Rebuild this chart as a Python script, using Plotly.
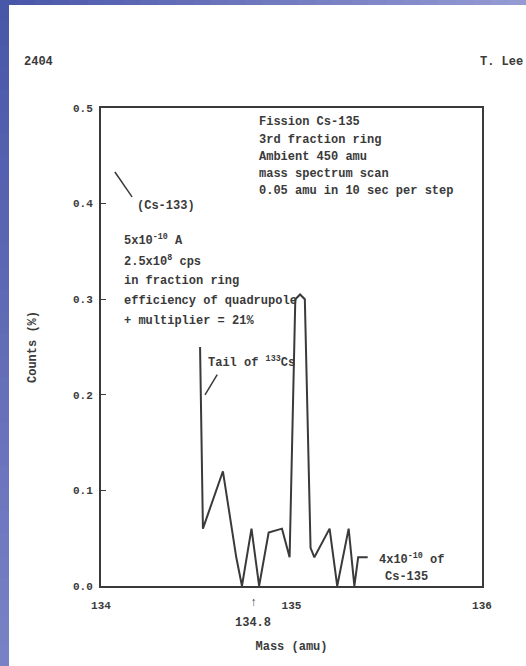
import plotly.graph_objects as go

# ---- data ----
mass = [134.52, 134.535, 134.64, 134.71, 134.74, 134.79, 134.83, 134.88, 134.95, 134.99,
        135.02, 135.045, 135.07, 135.10, 135.12, 135.20, 135.24, 135.30, 135.33, 135.35, 135.40]
counts = [0.25, 0.06, 0.12, 0.03, 0.0, 0.06, 0.0, 0.056, 0.06, 0.03,
          0.30, 0.305, 0.30, 0.04, 0.03, 0.06, 0.0, 0.06, 0.0, 0.03, 0.03]

x_ticks = [134, 135, 136]
x_tick_labels = ["134", "135", "136"]
y_ticks = [0.0, 0.1, 0.2, 0.3, 0.4, 0.5]

info_lines = ["Fission Cs-135", "3rd fraction ring", "Ambient 450 amu",
              "mass spectrum scan", "0.05 amu in 10 sec per step"]
cs133_lines = ["5x10<sup>-10</sup> A", "2.5x10<sup>8</sup> cps", "in fraction ring",
               "efficiency of quadrupole", "+ multiplier = 21%"]

FONT = "Liberation Mono"
INK = "#3a3a3a"

fig = go.Figure()
fig.add_trace(go.Scatter(x=mass, y=counts, mode="lines",
                         line=dict(color=INK, width=2), showlegend=False,
                         hoverinfo="skip"))

# slide decoration: blue gradient bands (left and top)
shapes = []
n = 30
def mix(c1, c2, t):
    return "rgb(%d,%d,%d)" % tuple(round(a + (b - a) * t) for a, b in zip(c1, c2))
top_c = (72, 86, 168)
bot_c = (122, 130, 198)
right_c = (150, 155, 212)
X0 = -101 / 381
X8 = (9 - 101) / 381
XR = (526 - 101) / 381
Y0 = 586 / 478
Y1 = (586 - 666) / 478
Y5 = (586 - 5) / 478
for i in range(n):
    t0 = i / n
    t1 = (i + 1) / n
    shapes.append(dict(type="rect", xref="paper", yref="paper",
                       x0=X0, x1=X8, y0=Y0 + (Y1 - Y0) * t0, y1=Y0 + (Y1 - Y0) * t1 - 0.002,
                       fillcolor=mix(top_c, bot_c, (t0 + t1) / 2), line_width=0, layer="above"))
    shapes.append(dict(type="rect", xref="paper", yref="paper",
                       x0=X0 + (XR - X0) * t0, x1=X0 + (XR - X0) * t1 + 0.002, y0=Y5, y1=Y0,
                       fillcolor=mix(top_c, right_c, (t0 + t1) / 2), line_width=0, layer="above"))

# pointer lines
shapes.append(dict(type="line", xref="x", yref="y", x0=134.073, y0=0.433, x1=134.163, y1=0.407,
                   line=dict(color=INK, width=1.5)))
shapes.append(dict(type="line", xref="x", yref="y", x0=134.61, y0=0.221, x1=134.546, y1=0.200,
                   line=dict(color=INK, width=1.5)))

ann = []
def txt(x, y, s, xref="x", yref="y", size=12, xanchor="left"):
    ann.append(dict(x=x, y=y, xref=xref, yref=yref, text="<b>" + s + "</b>", showarrow=False,
                    xanchor=xanchor, yanchor="middle",
                    font=dict(family=FONT, size=size, color=INK)))

info_y = [0.485, 0.467, 0.449, 0.431, 0.413]
for s, yy in zip(info_lines, info_y):
    txt(134.82, yy, s)
txt(134.18, 0.397, "(Cs-133)")
cs_y = [0.362, 0.340, 0.319, 0.298, 0.277]
for s, yy in zip(cs133_lines, cs_y):
    txt(134.11, yy, s)
txt(134.55, 0.234, "Tail of <sup>133</sup>Cs")
txt(135.45, 0.028, "4x10<sup>-10</sup> of")
txt(135.48, 0.009, "Cs-135")
txt(134.8, -0.036, "↑", yref="paper", xanchor="center")
txt(134.8, -0.077, "134.8", yref="paper", xanchor="center")
txt((22 - 101) / 381, (586 - 62) / 478, "2404", xref="paper", yref="paper")
txt((478 - 101) / 381, (586 - 62) / 478, "T. Lee", xref="paper", yref="paper")

fig.update_layout(
    width=526, height=666,
    margin=dict(l=101, r=44, t=108, b=80),
    paper_bgcolor="white", plot_bgcolor="white",
    font=dict(family=FONT, size=12, color=INK),
    shapes=shapes, annotations=ann,
    xaxis=dict(range=[134, 136], tickvals=x_ticks, ticktext=x_tick_labels,
               showline=True, mirror=True, linecolor=INK, linewidth=2,
               showgrid=False, zeroline=False, ticks="", ticklabelstandoff=8,
               tickfont=dict(family=FONT, size=11, color=INK, weight="bold"),
               title=dict(text="<b>Mass (amu)</b>", standoff=30,
                          font=dict(family=FONT, size=12, color=INK))),
    yaxis=dict(range=[0, 0.5], tickvals=y_ticks, tickformat=".1f",
               showline=True, mirror=True, linecolor=INK, linewidth=2,
               showgrid=False, zeroline=False, ticks="inside", ticklen=5, tickcolor=INK,
               ticklabelstandoff=4,
               tickfont=dict(family=FONT, size=11, color=INK, weight="bold"),
               title=dict(text="<b>Counts (%)</b>", standoff=34,
                          font=dict(family=FONT, size=12, color=INK))),
)

fig.write_html("out.html", config={"displayModeBar": False},
               post_script="document.body.style.margin='0px';")
